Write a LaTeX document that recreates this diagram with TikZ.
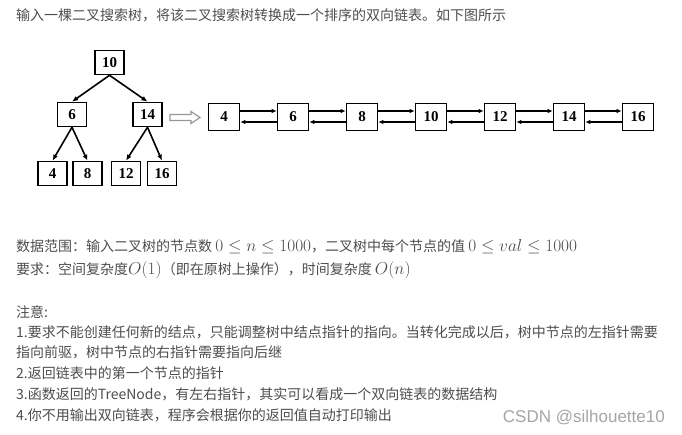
\documentclass[tikz,border=0pt]{standalone}
\usepackage{fontspec}
\setmainfont{Noto Sans CJK SC}
\newfontfamily\numfont{Liberation Serif}
\newfontfamily\markfont{Liberation Sans}
\usetikzlibrary{arrows.meta,positioning}
\definecolor{BodyGray}{RGB}{77,77,77}
\definecolor{MarkGray}{RGB}{165,165,165}
\definecolor{HollowGray}{RGB}{150,150,150}
\newcommand{\mathbig}[1]{{\fontsize{17}{17}\selectfont$#1$}}

\begin{document}
\begin{tikzpicture}[x=1pt,y=-1pt,
    box/.style={draw,line width=1.6pt,inner sep=0pt,minimum width=29pt,
      minimum height=24pt,font=\fontsize{15}{15}\numfont\bfseries},
    listbox/.style={box,minimum width=31pt,minimum height=27pt},
    edge/.style={-{Latex[length=6pt,width=5pt]},line width=1.6pt},
    ptr/.style={-{Latex[length=5pt,width=4.5pt]},line width=1.4pt},
    line/.style={anchor=west,inner sep=0pt,text=BodyGray,
      font=\fontsize{14}{14}\selectfont}]
  \useasboundingbox (0,0) rectangle (682,435);

  \node[line] (title) at (16,15) {输入一棵二叉搜索树，将该二叉搜索树转换成一个排序的双向链表。如下图所示};

  % binary search tree
  \node[box] (t10) at (109.5,62.5) {10};
  \node[box] (t6) at (72,114.5) {6};
  \node[box] (t14) at (147.5,114.5) {14};
  \node[box] (t4) at (52.5,173.5) {4};
  \node[box] (t8) at (87.5,173.5) {8};
  \node[box] (t12) at (126,173.5) {12};
  \node[box] (t16) at (162,173.5) {16};
  \draw[edge] (t10.south) -- (t6.north);
  \draw[edge] (t10.south) -- (t14.north);
  \draw[edge] (t6.south) -- (t4.north);
  \draw[edge] (t6.south) -- (t8.north);
  \draw[edge] (t14.south) -- (t12.north);
  \draw[edge] (t14.south) -- (t16.north);

  % hollow arrow
  \draw[HollowGray,line width=1.2pt,line join=miter]
    (170,114.5) -- (191,114.5) -- (191,111.5) -- (200,117.5)
    -- (191,123.5) -- (191,120.5) -- (170,120.5) -- cycle;

  % doubly linked list
  \foreach \v [count=\i] in {4,6,8,10,12,14,16}
    \node[listbox] (l\i) at ({224+69*(\i-1)},117) {\v};
  \foreach \i [evaluate=\i as \j using int(\i+1)] in {1,...,6} {
    \draw[ptr] ([yshift=6pt]l\i.east) -- ([yshift=6pt]l\j.west);
    \draw[ptr] ([yshift=-5pt]l\j.west) -- ([yshift=-5pt]l\i.east);
  }

  \node[line] (range) at (16,246.5) {数据范围：输入二叉树的节点数 \mathbig{0\leq n\leq 1000}，二叉树中每个节点的值 \mathbig{0\leq val\leq 1000}};
  \node[line] (need) at (16,270) {要求：空间复杂度\mathbig{O(1)}（即在原树上操作），时间复杂度 \mathbig{O(n)}};

  \node[line] (note) at (16,312) {注意:};
  \node[line] (n1a) at (16,332) {1.要求不能创建任何新的结点，只能调整树中结点指针的指向。当转化完成以后，树中节点的左指针需要};
  \node[line] (n1b) at (16,352.5) {指向前驱，树中节点的右指针需要指向后继};
  \node[line] (n2) at (16,373) {2.返回链表中的第一个节点的指针};
  \node[line] (n3) at (16,394) {3.函数返回的TreeNode，有左右指针，其实可以看成一个双向链表的数据结构};
  \node[line] (n4) at (16,415) {4.你不用输出双向链表，程序会根据你的返回值自动打印输出};

  \node[anchor=east,inner sep=0pt,text=MarkGray,
    font=\fontsize{17}{17}\markfont] (mark) at (665,418) {CSDN @silhouette10};
\end{tikzpicture}
\end{document}
